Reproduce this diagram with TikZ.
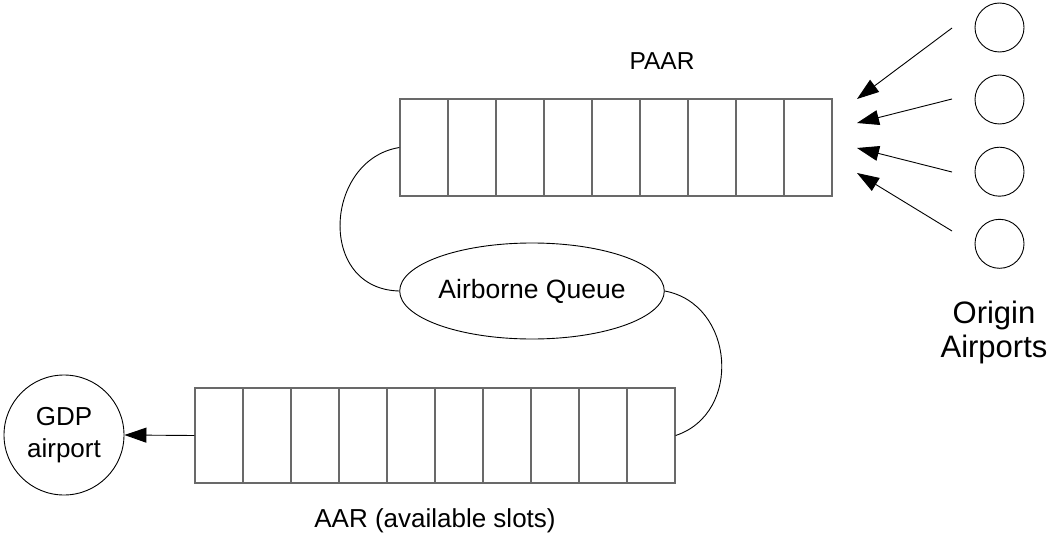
\documentclass[tikz,border=0pt]{standalone}
\usepackage{fontspec}
\setmainfont{Liberation Sans}
\usetikzlibrary{arrows.meta, shapes.geometric}
\definecolor{slotgray}{RGB}{105,105,105}

\begin{document}
\begin{tikzpicture}[x=1pt, y=-1pt, line width=0.9pt,
  every node/.style={align=center, inner sep=0pt},
  flow/.style={-{Triangle[length=22pt, width=15pt]}},
  slot/.style={draw=slotgray, line width=1.2pt, minimum width=48pt},
  airport/.style={draw, circle}]
  \useasboundingbox (0,0) rectangle (1047,535);
  % top row of slots (PAAR) and the origin airports feeding it
  \foreach \i in {1,...,9}
    \node[slot, minimum height=97pt] (paar\i) at ({376+48*\i}, 147.5) {};
  \node[font=\fontsize{24.5}{28}\selectfont] (paarlbl) at (662,61) {PAAR};
  \foreach \i/\y in {1/27.5, 2/99.5, 3/171.7, 4/243.8}
    \node[airport, minimum size=49pt] (orig\i) at (999.5,\y) {};
  \node[font=\fontsize{31}{34}\selectfont] (origlbl) at (994,332) {Origin\\Airports};
  % free ends of the arrival arrows
  \coordinate (src1) at (952,28);  \coordinate (dst1) at (857,99);
  \coordinate (src2) at (952,99);  \coordinate (dst2) at (857,123);
  \coordinate (src3) at (952,172); \coordinate (dst3) at (857,148);
  \coordinate (src4) at (952,231); \coordinate (dst4) at (857,173);
  % middle: the airborne queue
  \node[draw, ellipse, minimum width=240pt, minimum height=96pt, font=\fontsize{26.5}{30}\selectfont] (queue) at (532,291) {Airborne Queue};
  % bottom row of slots (AAR) and the GDP airport
  \foreach \i in {1,...,10}
    \node[slot, minimum height=95pt] (aar\i) at ({171+48*\i}, 435.5) {};
  \node[font=\fontsize{26}{32}\selectfont, anchor=base] (aarlbl) at (435,527) {AAR (available slots)};
  \node[airport, minimum size=120pt, font=\fontsize{26}{32}\selectfont] (gdp) at (64,435) {GDP\\airport};
  \foreach \i in {1,...,4}
    \draw[flow] (src\i) -- (dst\i);
  \draw (paar1.west) .. controls +(-75,12) and +(-83,-2) .. (queue.west);
  \draw (queue.east) .. controls +(70,13) and +(67,-22) .. (aar10.east);
  \draw[flow] (aar1.west) -- (gdp.east);
\end{tikzpicture}
\end{document}
